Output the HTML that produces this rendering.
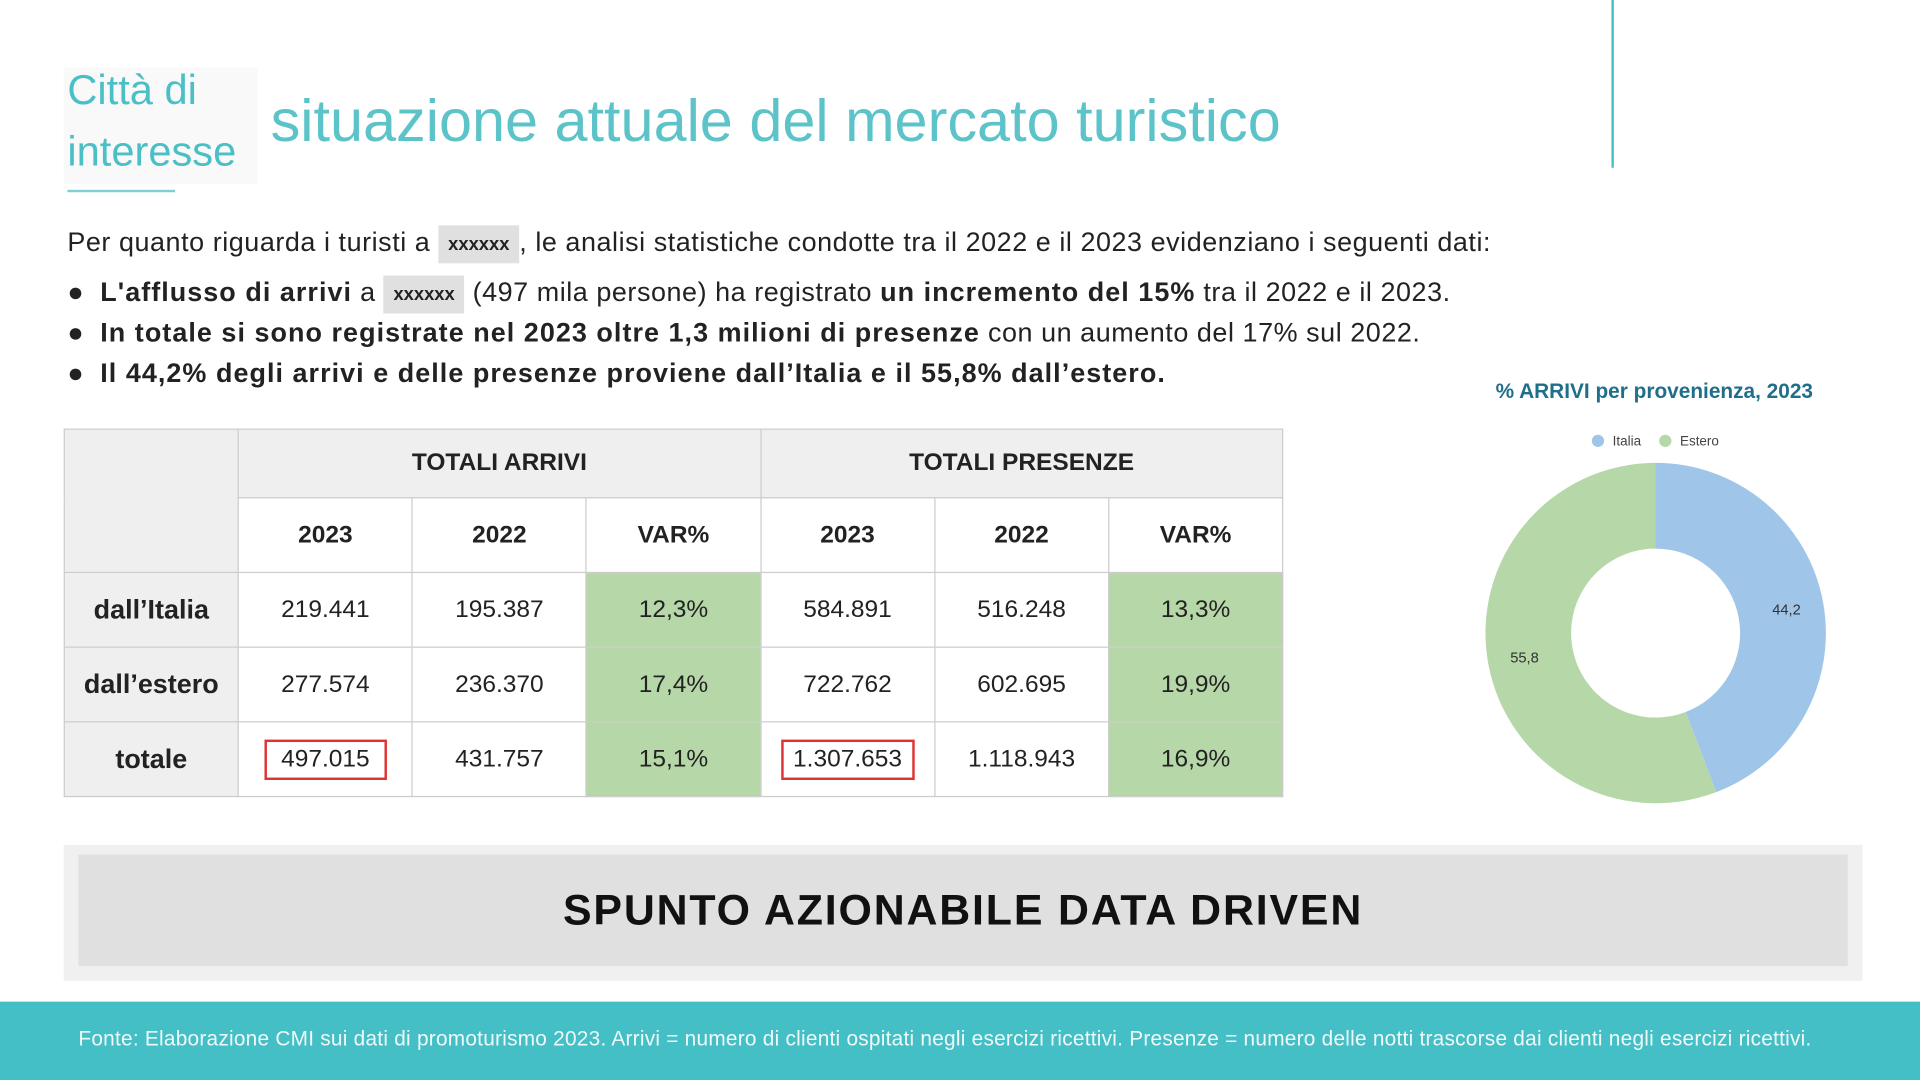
<!DOCTYPE html>
<html><head><meta charset="utf-8"><style>
html,body{margin:0;padding:0;background:#fff;overflow:hidden}
#w{position:absolute;left:0;top:0;width:1568px;height:882px;transform:scale(1.22449);transform-origin:0 0;font-family:"Liberation Sans",sans-serif;color:#222}
.a{position:absolute;white-space:nowrap}
.t{letter-spacing:0.45px}
.t b{letter-spacing:0.85px}
.x{background:#e0e0e0;font-size:15px;font-weight:bold;padding:7px 8px;display:inline-block;line-height:17px;vertical-align:middle;letter-spacing:0}
table{position:absolute;left:52px;top:350px;border-collapse:collapse;font-size:20px;table-layout:fixed;width:996px}
td{border:1px solid #ccc;text-align:center;padding:0}
.g{background:#efefef}.gr{background:#b6d7a8}.b{font-weight:bold}
.r{display:inline-block;border:2px solid #d33;padding:3px 12px}
</style></head><body><div id="w">
<div class="a" style="left:52px;top:55px;width:158px;height:95px;background:#f9f9f9"></div>
<div class="a" style="left:55px;top:49px;font-size:34px;line-height:50px;color:#4bbfc6">Città di<br>interesse</div>
<div class="a" style="left:55px;top:155px;width:88px;height:2px;background:#7fd0d5"></div>
<div class="a" style="left:221px;top:71px;font-size:48.5px;color:#5cc3c9">situazione attuale del mercato turistico</div>
<div class="a" style="left:1316px;top:0;width:2px;height:137px;background:#4bbfc6"></div>
<div class="a t" style="left:55px;top:182px;font-size:22px;line-height:31px">Per quanto riguarda i turisti a <span class="x">xxxxxx</span>, le analisi statistiche condotte tra il 2022 e il 2023 evidenziano i seguenti dati:</div>
<div class="a t" style="left:55px;top:223px;font-size:22px;line-height:31px">●&nbsp; <b>L'afflusso di arrivi</b> a <span class="x">xxxxxx</span> (497 mila persone) ha registrato <b>un incremento del 15%</b> tra il 2022 e il 2023.</div>
<div class="a t" style="left:55px;top:256px;font-size:22px;line-height:31px">●&nbsp; <b>In totale si sono registrate nel 2023 oltre 1,3 milioni di presenze</b> con un aumento del 17% sul 2022.</div>
<div class="a t" style="left:55px;top:289px;font-size:22px;line-height:31px">●&nbsp; <b>Il 44,2% degli arrivi e delle presenze proviene dall’Italia e il 55,8% dall’estero.</b></div>
<table>
<tr style="height:56px"><td class="g" rowspan="2"></td><td class="g b" colspan="3">TOTALI ARRIVI</td><td class="g b" colspan="3">TOTALI PRESENZE</td></tr>
<tr style="height:61px" class="b"><td>2023</td><td>2022</td><td>VAR%</td><td>2023</td><td>2022</td><td>VAR%</td></tr>
<tr style="height:61px"><td class="g b" style="font-size:22px">dall’Italia</td><td>219.441</td><td>195.387</td><td class="gr">12,3%</td><td>584.891</td><td>516.248</td><td class="gr">13,3%</td></tr>
<tr style="height:61px"><td class="g b" style="font-size:22px">dall’estero</td><td>277.574</td><td>236.370</td><td class="gr">17,4%</td><td>722.762</td><td>602.695</td><td class="gr">19,9%</td></tr>
<tr style="height:61px"><td class="g b" style="font-size:22px">totale</td><td><span class="r">497.015</span></td><td>431.757</td><td class="gr">15,1%</td><td><span class="r" style="padding:3px 8px">1.307.653</span></td><td>1.118.943</td><td class="gr">16,9%</td></tr>
</table>
<div class="a" style="left:1151px;top:310px;width:400px;text-align:center;font-size:17px;font-weight:bold;color:#1f6f8b">% ARRIVI per provenienza, 2023</div>
<svg class="a" style="left:1150px;top:340px" width="420" height="330" viewBox="1150 340 420 330">
<circle cx="1305" cy="360" r="5" fill="#9fc5e8"/><text x="1317" y="364" font-size="11" fill="#444" font-family="Liberation Sans">Italia</text>
<circle cx="1360" cy="360" r="5" fill="#b6d7a8"/><text x="1372" y="364" font-size="11" fill="#444" font-family="Liberation Sans">Estero</text>
<path d="M1352 378 A139 139 0 0 1 1401.6 646.9 L1376.6 581.5 A69 69 0 0 0 1352 448 Z" fill="#9fc5e8"/>
<path d="M1401.6 646.9 A139 139 0 1 1 1352 378 L1352 448 A69 69 0 1 0 1376.6 581.5 Z" fill="#b6d7a8"/>
<text x="1459" y="502" font-size="12" fill="#333" text-anchor="middle" font-family="Liberation Sans">44,2</text>
<text x="1245" y="541" font-size="12" fill="#333" text-anchor="middle" font-family="Liberation Sans">55,8</text>
</svg>
<div class="a" style="left:52px;top:690px;width:1469px;height:111px;background:#f0f0f0"></div>
<div class="a" style="left:64px;top:698px;width:1445px;height:91px;background:#e0e0e0;text-align:center;line-height:91px;font-size:35px;font-weight:bold;color:#111;letter-spacing:1.5px">SPUNTO AZIONABILE DATA DRIVEN</div>
<div class="a" style="left:0;top:818px;width:1568px;height:64px;background:#45bfc6"></div>
<div class="a" style="left:64px;top:839px;font-size:17px;color:#eef9fa;letter-spacing:0.2px">Fonte: Elaborazione CMI sui dati di promoturismo 2023. Arrivi = numero di clienti ospitati negli esercizi ricettivi. Presenze = numero delle notti trascorse dai clienti negli esercizi ricettivi.</div>
</div></body></html>
